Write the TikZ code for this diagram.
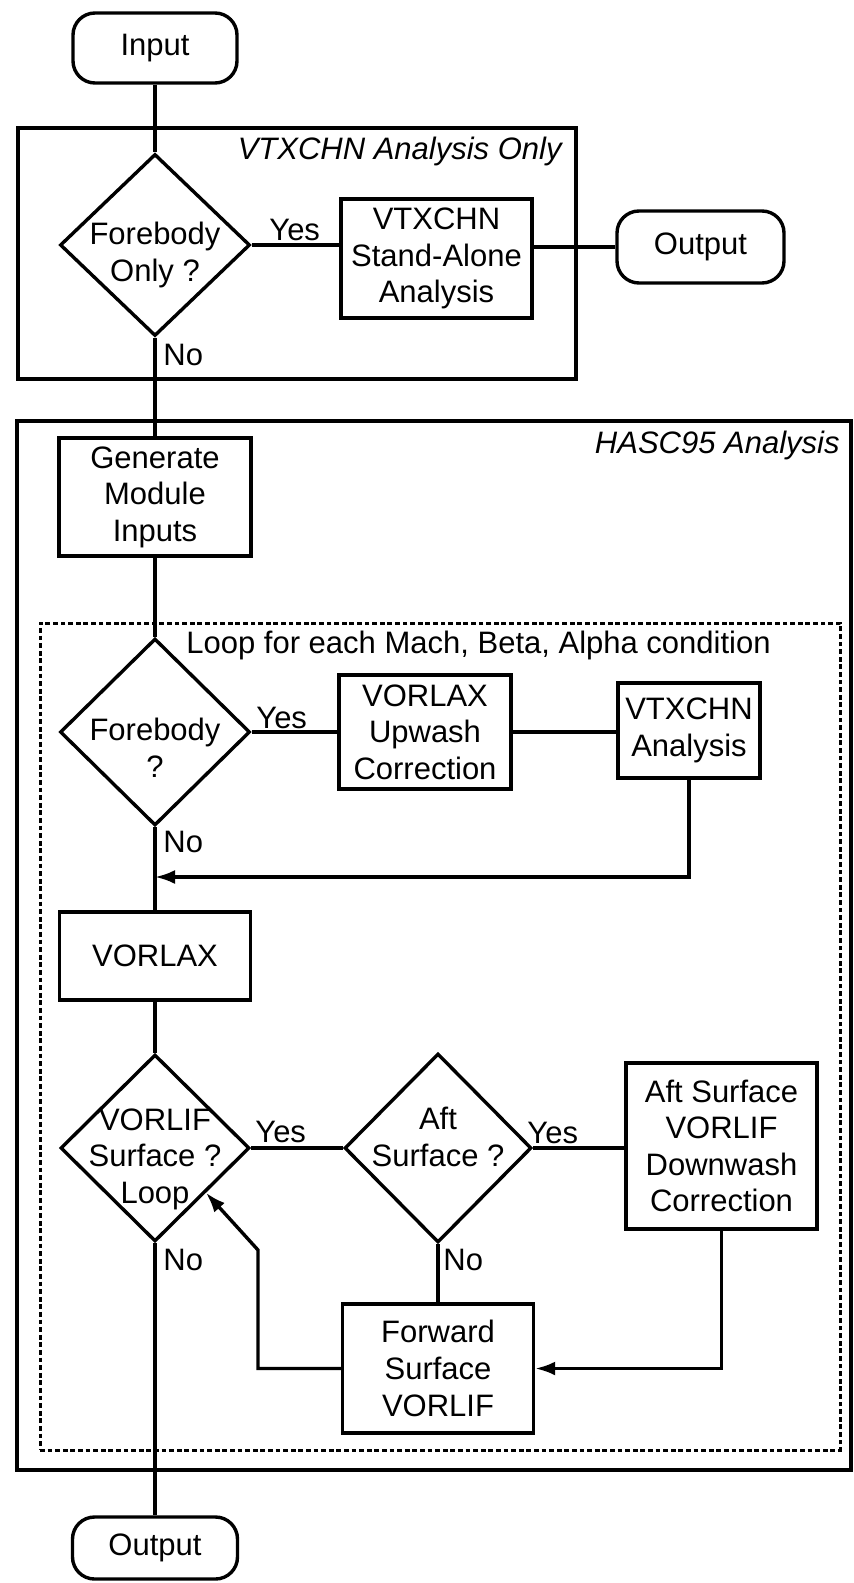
\documentclass[tikz,border=0pt]{standalone}
\usepackage{fontspec}
\setmainfont{Liberation Sans}
\usetikzlibrary{arrows.meta,shapes.geometric,calc}
\begin{document}
\begin{tikzpicture}[x=0.5pt,y=-0.5pt,
  font=\fontsize{15.5}{18.3}\selectfont,
  base/.style={draw, line width=1.7pt, inner sep=0pt, align=center},
  term/.style={base, rectangle, rounded corners=11pt},
  proc/.style={base, rectangle},
  dec/.style={base, diamond, shape aspect=1},
  frame/.style={draw, line width=1.8pt, inner sep=0pt},
  loopframe/.style={draw, line width=1.5pt, dash pattern=on 2.4pt off 1.4pt, inner sep=0pt},
  conn/.style={line width=1.7pt},
  arr/.style={line width=1.7pt, -{Latex[length=10pt,width=7pt]}},
  lbl/.style={inner sep=0pt},
  title/.style={inner sep=0pt, font=\fontsize{15.5}{18.3}\selectfont\itshape}]

\useasboundingbox[fill=white] (0,0) rectangle (854,1583);

% frames
\node[frame, minimum width=279pt, minimum height=125.5pt] (g1) at (297,253.5) {};
\node[frame, minimum width=417pt, minimum height=524.5pt] (g2) at (434,945.5) {};
\node[loopframe, minimum width=400pt, minimum height=413.5pt] (g3) at (440,1036.5) {};

\node[title, anchor=base east] (t1) at (562,160) {VTXCHN Analysis Only};
\node[title, anchor=base east] (t2) at (840,453) {HASC95 Analysis};
\node[lbl, anchor=base west] (t3) at (186,653) {Loop for each Mach, Beta, Alpha condition};

% nodes
\node[term, minimum width=82pt, minimum height=35pt] (in) at (155,48) {Input};
\node[dec, minimum width=95pt, minimum height=91pt,
  label={[align=center,yshift=-5pt]center:Forebody\\Only ?}] (d1) at (155,245) {};
\node[proc, minimum width=95.5pt, minimum height=59.5pt] (sa) at (436.5,258.5) {VTXCHN\\Stand-Alone\\Analysis};
\node[term, minimum width=83.5pt, minimum height=36pt] (o1) at (700.5,247) {Output};

\node[proc, minimum width=96pt, minimum height=59pt] (gen) at (155,497) {Generate\\Module\\Inputs};
\node[dec, minimum width=95pt, minimum height=93.5pt,
  label={[align=center,yshift=-8pt]center:Forebody\\?}] (d2) at (155,732) {};
\node[proc, minimum width=86pt, minimum height=57pt] (vu) at (425,732) {VORLAX\\Upwash\\Correction};
\node[proc, minimum width=71pt, minimum height=47.5pt] (va) at (689,730.5) {VTXCHN\\Analysis};
\coordinate (r1) at (155,877);

\node[proc, minimum width=95.5pt, minimum height=44pt] (vx) at (155,956) {VORLAX};
\node[dec, minimum width=94.5pt, minimum height=93.5pt,
  label={[align=center,yshift=-5.5pt]center:VORLIF\\Surface ?\\Loop}] (d3) at (155,1148) {};
\node[dec, minimum width=93.5pt, minimum height=94.5pt,
  label={[align=center,yshift=5.5pt]center:Aft\\Surface ?}] (d4) at (438,1148) {};
\node[proc, minimum width=95.5pt, minimum height=83pt] (aft) at (721.5,1146) {Aft Surface\\VORLIF\\Downwash\\Correction};
\node[proc, minimum width=95.5pt, minimum height=64.5pt] (fw) at (438,1368.5) {Forward\\Surface\\VORLIF};
\node[term, minimum width=82.5pt, minimum height=31pt] (o2) at (155,1548) {Output};

\coordinate (lk) at (258,1250);
\coordinate (tip) at ($(d3.east)!0.47!(d3.south)$);

% labels
\node[lbl, anchor=base west] (y1) at (269,241) {Yes};
\node[lbl, anchor=base west] (n1) at (163,365) {No};
\node[lbl, anchor=base west] (y2) at (256,728) {Yes};
\node[lbl, anchor=base west] (n2) at (163,852) {No};
\node[lbl, anchor=base west] (y3) at (255,1142) {Yes};
\node[lbl, anchor=base west] (y4) at (527,1143) {Yes};
\node[lbl, anchor=base west] (n3) at (163,1270) {No};
\node[lbl, anchor=base west] (n4) at (443,1270) {No};

% connectors
\draw[conn] (in.south) -- (d1.north);
\draw[conn] (d1.east) -- (d1.east -| sa.west);
\draw[conn] (sa.east |- o1.west) -- (o1.west);
\draw[conn] (d1.south) -- (gen.north);
\draw[conn] (gen.south) -- (d2.north);
\draw[conn] (d2.east) -- (vu.west);
\draw[conn] (vu.east) -- (vu.east -| va.west);
\draw[arr] (va.south) |- (r1);
\draw[conn] (d2.south) -- (vx.north);
\draw[conn] (vx.south) -- (d3.north);
\draw[conn] (d3.east) -- (d4.west);
\draw[conn] (d4.east) -- (d4.east -| aft.west);
\draw[conn] (d4.south) -- (fw.north);
\draw[arr] (aft.south) |- (fw.east);
\draw[arr] (fw.west) -| (lk) -- (tip);
\draw[conn] (d3.south) -- (o2.north);
\end{tikzpicture}
\end{document}
